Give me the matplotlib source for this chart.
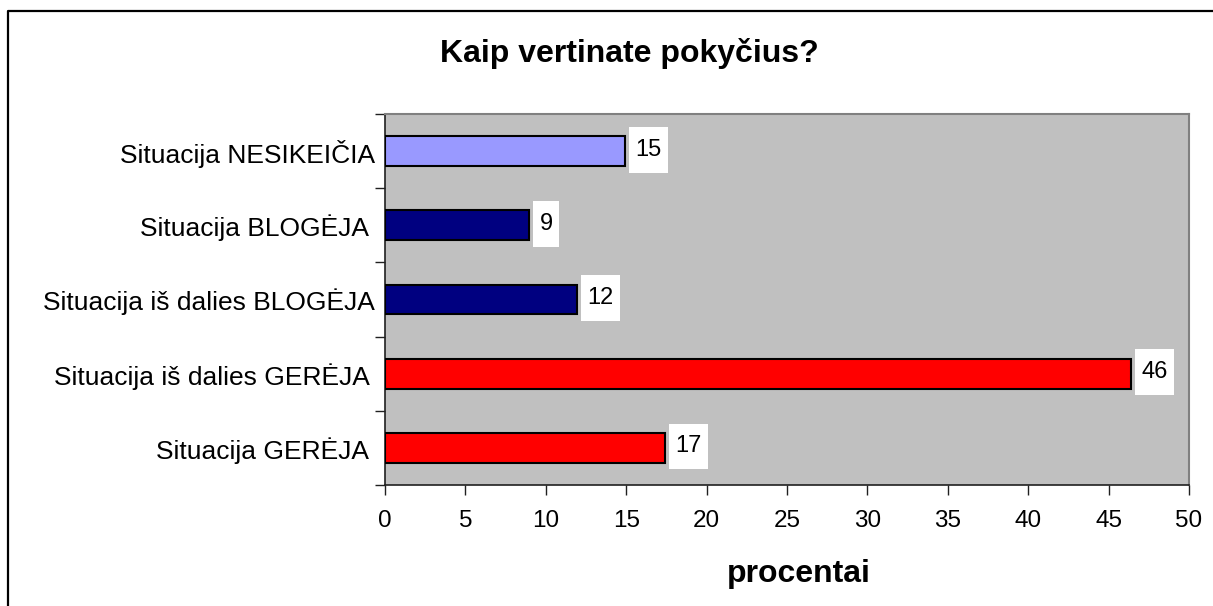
import matplotlib
matplotlib.use("Agg")
import matplotlib.pyplot as plt
from matplotlib.path import Path
from matplotlib.lines import Line2D

plt.rcParams['font.family'] = ['Liberation Sans', 'DejaVu Sans']

# data (bottom to top)
categories = ['Situacija GERĖJA ', 'Situacija iš dalies GERĖJA ',
              'Situacija iš dalies BLOGĖJA', 'Situacija BLOGĖJA ',
              'Situacija NESIKEIČIA']
values = [17.4, 46.4, 11.95, 8.96, 14.93]
labels = ['17', '46', '12', '9', '15']
colors = ['#FF0000', '#FF0000', '#000080', '#000080', '#9999FF']


def label_box(x0, y0, width, height, mutation_size):
    # white box, taller than the text
    px = 0.26 * mutation_size
    py = 0.5 * mutation_size
    x0, y0 = x0 - px, y0 - py
    x1, y1 = x0 + width + 2 * px, y0 + height + 2 * py
    return Path([(x0, y0), (x1, y0), (x1, y1), (x0, y1), (x0, y0)], closed=True)


fig = plt.figure(figsize=(12.13, 6.06), dpi=100)
ax = fig.add_axes([0.3174, 0.1997, 0.6628, 0.6122])
ax.set_facecolor('#C0C0C0')

pos = list(range(len(categories)))
ax.barh(pos, values, height=0.4, color=colors, edgecolor='black', linewidth=1.5, zorder=3)

for p, v, t in zip(pos, values, labels):
    ax.annotate(t, (v, p), xytext=(7.5, 1), textcoords='offset points',
                ha='left', va='center', fontsize=17, zorder=4,
                bbox=dict(boxstyle=label_box, fc='white', ec='none'))

ax.set_xlim(0, 50)
ax.set_ylim(-0.5, len(categories) - 0.5)
ax.set_xticks(range(0, 51, 5))
ax.tick_params(axis='x', length=7, width=1, pad=11, labelsize=17.5, color='#202020')
ax.set_yticks(pos)
ax.set_yticklabels(categories)
ax.tick_params(axis='y', which='major', length=0, pad=7, labelsize=19)
ax.set_yticks([p - 0.5 for p in range(len(categories) + 1)], minor=True)
ax.tick_params(axis='y', which='minor', length=7, width=1, color='#202020')

for s in ['left', 'bottom']:
    ax.spines[s].set_color('#202020')
    ax.spines[s].set_linewidth(1.2)
for s in ['top', 'right']:
    ax.spines[s].set_color('#808080')
    ax.spines[s].set_linewidth(1.5)

fig.text(0.519, 0.911, 'Kaip vertinate pokyčius?', ha='center', va='center',
         fontsize=23, fontweight='bold')
fig.text(0.6587, 0.052, 'procentai', ha='center', va='center',
         fontsize=23, fontweight='bold')

# outer frame of the chart
fig.add_artist(Line2D([0.0066, 0.0066, 1.0], [0.0, 0.9818, 0.9818],
                      transform=fig.transFigure, color='black', linewidth=1.6))

fig.savefig('out.png', dpi=100)
